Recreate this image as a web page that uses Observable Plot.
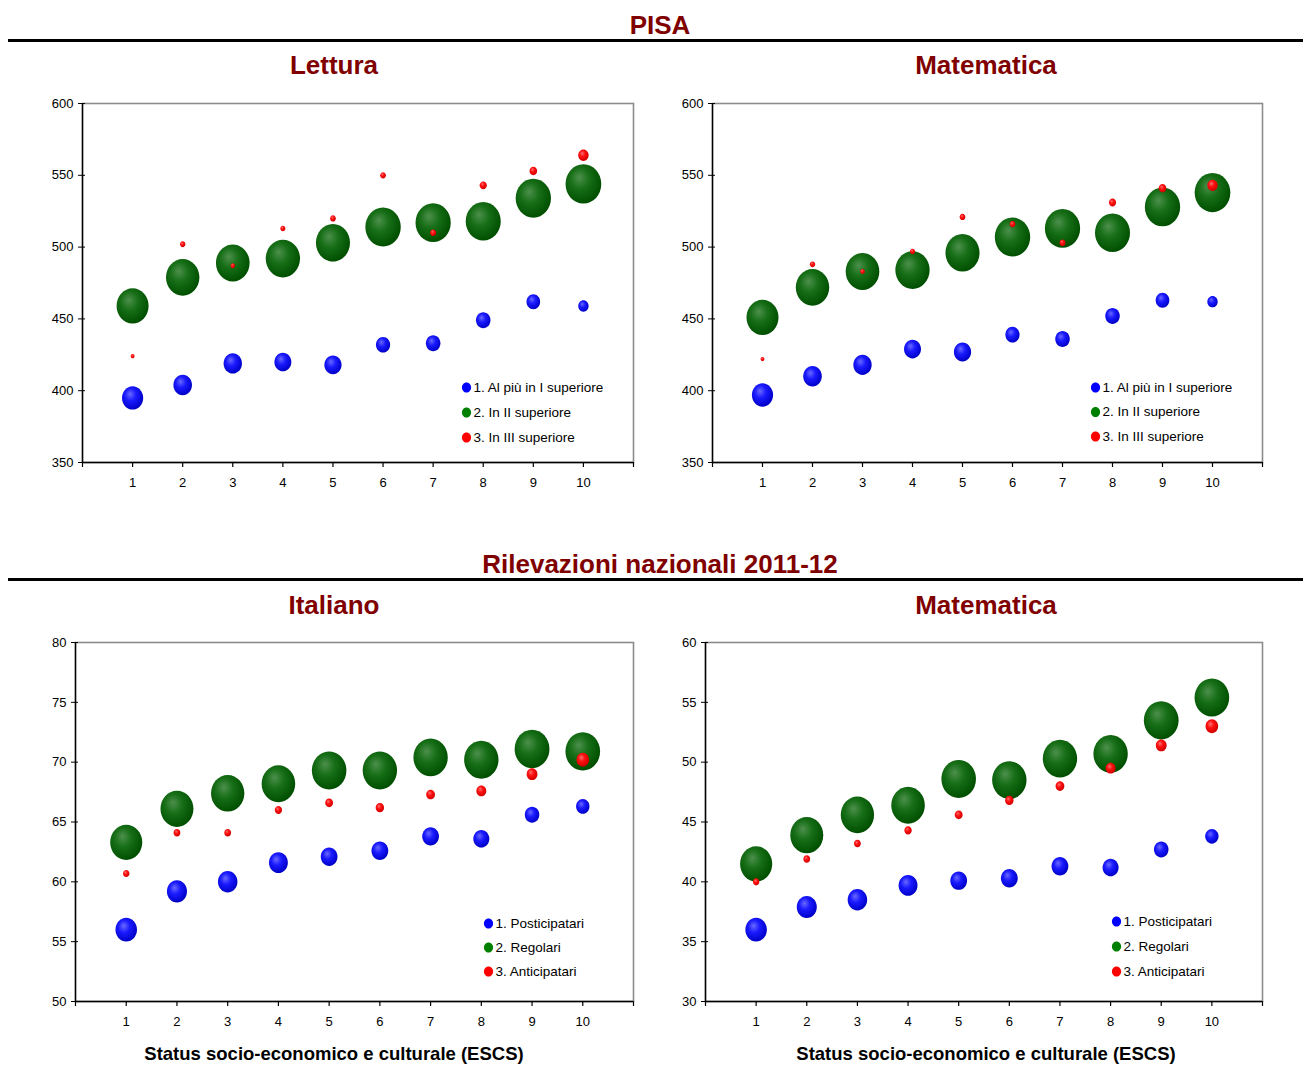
<!DOCTYPE html>
<html><head><meta charset="utf-8">
<script src="https://cdn.jsdelivr.net/npm/d3@7"></script>
<script src="https://cdn.jsdelivr.net/npm/@observablehq/plot@0.6"></script>
<style>
body{margin:0;background:#fff;font-family:"Liberation Sans",Arial,sans-serif;}
#page{position:relative;width:1303px;height:1066px;overflow:hidden;}
.t{position:absolute;width:600px;text-align:center;font-weight:bold;white-space:nowrap;}
.red{color:#800000;font-size:26px;line-height:30px;}
.xt{color:#000;font-size:18.5px;line-height:22px;}
.rule{position:absolute;left:8px;width:1295px;height:3px;background:#000;}
.panel{position:absolute;}
</style></head><body>
<svg width="0" height="0" style="position:absolute">
<defs>
<radialGradient id="gBlue" cx="0.42" cy="0.4" r="0.6" fx="0.38" fy="0.33">
<stop offset="0" stop-color="#6a6aff"/><stop offset="0.45" stop-color="#1a1aff"/><stop offset="1" stop-color="#0000c8"/>
</radialGradient>
<radialGradient id="gGreen" cx="0.42" cy="0.4" r="0.6" fx="0.38" fy="0.33">
<stop offset="0" stop-color="#4d8f4d"/><stop offset="0.45" stop-color="#176f17"/><stop offset="1" stop-color="#004f00"/>
</radialGradient>
<radialGradient id="gRed" cx="0.42" cy="0.4" r="0.6" fx="0.38" fy="0.33">
<stop offset="0" stop-color="#ff7070"/><stop offset="0.45" stop-color="#ff1010"/><stop offset="1" stop-color="#d00000"/>
</radialGradient>
</defs></svg>
<div id="page"></div>
<script>
// ---- data ----
const deciles = [1, 2, 3, 4, 5, 6, 7, 8, 9, 10];

// PISA: share of students (%) by grade attended, used as bubble size
const pisaShareBlue  = [30.2, 23.2, 22.6, 19.3, 19.9, 13.6, 14.2, 14.1, 12.5, 7.2];
const pisaShareGreen = [68.8, 74.9, 76.0, 79.0, 77.9, 84.2, 83.3, 82.4, 83.6, 85.6];
const pisaShareRed   = [1.0, 1.9, 1.4, 1.7, 2.2, 2.2, 2.5, 3.5, 3.9, 7.2];

// PISA Lettura scores
const letturaBlue  = [395, 404, 419, 420, 418, 432, 433, 449, 462, 459];
const letturaGreen = [459, 479, 489, 492, 503, 514, 517, 518, 534, 544];
const letturaRed   = [424, 502, 487, 513, 520, 550, 510, 543, 553, 564];

// PISA Matematica scores
const pisaMatBlue  = [397, 410, 418, 429, 427, 439, 436, 452, 463, 462];
const pisaMatGreen = [451, 472, 483, 484, 496, 507, 513, 510, 528, 538];
const pisaMatRed   = [422, 488, 483, 497, 521, 516, 503, 531, 541, 543];

// Rilevazioni nazionali: share of students (%) used as bubble size
const rnShareBlue  = [30.2, 26.2, 24.7, 23.2, 18.2, 18.4, 18.3, 16.7, 13.7, 11.6];
const rnShareGreen = [67.1, 70.7, 72.3, 73.3, 77.7, 77.0, 76.7, 76.9, 78.8, 78.2];
const rnShareRed   = [2.7, 3.0, 3.0, 3.5, 4.1, 4.6, 5.0, 6.4, 7.5, 10.3];

// Italiano scores
const italianoBlue  = [56.0, 59.2, 60.0, 61.6, 62.1, 62.6, 63.8, 63.6, 65.6, 66.3];
const italianoGreen = [63.3, 66.1, 67.4, 68.2, 69.3, 69.3, 70.4, 70.2, 71.1, 70.9];
const italianoRed   = [60.7, 64.1, 64.1, 66.0, 66.6, 66.2, 67.3, 67.6, 69.0, 70.2];

// Matematica (RN) scores
const rnMatBlue  = [36.0, 37.9, 38.5, 39.7, 40.1, 40.3, 41.3, 41.2, 42.7, 43.8];
const rnMatGreen = [41.5, 43.9, 45.6, 46.4, 48.6, 48.5, 50.3, 50.7, 53.5, 55.4];
const rnMatRed   = [40.0, 41.9, 43.2, 44.3, 45.6, 46.8, 48.0, 49.5, 51.4, 53.0];

const pisaLabels = ["1. Al più in I superiore", "2. In II superiore", "3. In III superiore"];
const rnLabels = ["1. Posticipatari", "2. Regolari", "3. Anticipatari"];

const pisaYTicks = [350, 400, 450, 500, 550, 600];
const italianoYTicks = [50, 55, 60, 65, 70, 75, 80];
const rnMatYTicks = [30, 35, 40, 45, 50, 55, 60];
const xTicks = [0, 1, 2, 3, 4, 5, 6, 7, 8, 9, 10, 11];

// ---- drawing ----
const ellipse = {
  draw(ctx, size) {
    const rx = Math.sqrt(size / Math.PI), ry = rx * 1.1, k = 0.5523;
    ctx.moveTo(rx, 0);
    ctx.bezierCurveTo(rx, ry * k, rx * k, ry, 0, ry);
    ctx.bezierCurveTo(-rx * k, ry, -rx, ry * k, -rx, 0);
    ctx.bezierCurveTo(-rx, -ry * k, -rx * k, -ry, 0, -ry);
    ctx.bezierCurveTo(rx * k, -ry, rx, -ry * k, rx, 0);
    ctx.closePath();
  }
};

function rows(scores, shares) {
  return deciles.map((d, i) => ({decile: d, score: scores[i], share: shares[i]}));
}

function panel(o) {
  const [y0, y1] = [o.yTicks[0], o.yTicks[o.yTicks.length - 1]];
  const series = [
    {data: rows(o.blue, o.sBlue), fill: "url(#gBlue)", flat: "#0000ff"},
    {data: rows(o.green, o.sGreen), fill: "url(#gGreen)", flat: "#008000"},
    {data: rows(o.red, o.sRed), fill: "url(#gRed)", flat: "#ff0000"}
  ];
  const marks = [
    Plot.frame({stroke: "#8c8c8c", strokeWidth: 1.6}),
    Plot.ruleY([y0], {stroke: "#000", strokeWidth: 1.4}),
    Plot.ruleX([0], {stroke: "#000", strokeWidth: 1.4}),
    Plot.axisX({ticks: xTicks, tickSize: 5, tickPadding: 10, fontSize: 13, tickFormat: d => (d >= 1 && d <= 10 ? d : ""), stroke: "#000", strokeWidth: 1.2, color: "#000"}),
    Plot.axisY({ticks: o.yTicks, tickSize: 4, tickPadding: 5, fontSize: 13, stroke: "#000", color: "#000", label: null}),
    Plot.axisY({ticks: o.yTicks, anchor: "left", tickSize: -3, tickFormat: () => "", stroke: "#000", label: null})
  ];
  for (const s of series) {
    marks.push(Plot.dot(s.data, {x: "decile", y: "score", r: "share", symbol: ellipse, fill: s.fill, stroke: "none"}));
  }
  series.forEach((s, i) => {
    marks.push(Plot.dot([0], {frameAnchor: "top-left", dx: o.legX, dy: o.legY + i * o.legStep, r: 4.6, symbol: ellipse, fill: s.flat}));
    marks.push(Plot.text([o.labels[i]], {frameAnchor: "top-left", dx: o.legX + 7, dy: o.legY + i * o.legStep, text: d => d, textAnchor: "start", lineAnchor: "middle", fontSize: 13.5, fill: "#000"}));
  });
  const svg = Plot.plot({
    width: o.width, height: o.height,
    marginLeft: o.ml, marginRight: o.mr, marginTop: o.mt, marginBottom: o.mb,
    style: {fontFamily: "'Liberation Sans', Arial, sans-serif", fontSize: "13px", background: "transparent", color: "#000", overflow: "visible"},
    x: {domain: [0, 11], label: null},
    y: {domain: [y0, y1], label: null},
    r: {type: "sqrt", domain: [0, 100], range: [0, o.r100]},
    marks
  });
  const div = document.createElement("div");
  div.className = "panel";
  div.style.left = o.left + "px";
  div.style.top = o.top + "px";
  div.appendChild(svg);
  document.getElementById("page").appendChild(div);
}

// PISA Lettura: plot area x 82..633, y 103..462
panel({left: 0, top: 90, width: 651, height: 410, ml: 82, mr: 18, mt: 13, mb: 38,
  yTicks: pisaYTicks, blue: letturaBlue, green: letturaGreen, red: letturaRed,
  sBlue: pisaShareBlue, sGreen: pisaShareGreen, sRed: pisaShareRed, r100: 19.3,
  labels: pisaLabels, legX: 384, legY: 284, legStep: 25});
// PISA Matematica: plot area x 712..1262
panel({left: 630, top: 90, width: 651, height: 410, ml: 82, mr: 19, mt: 13, mb: 38,
  yTicks: pisaYTicks, blue: pisaMatBlue, green: pisaMatGreen, red: pisaMatRed,
  sBlue: pisaShareBlue, sGreen: pisaShareGreen, sRed: pisaShareRed, r100: 19.3,
  labels: pisaLabels, legX: 383, legY: 284, legStep: 24.5});
// Italiano: plot area x 75..633, y 642..1001
panel({left: 0, top: 630, width: 651, height: 410, ml: 75, mr: 18, mt: 12, mb: 39,
  yTicks: italianoYTicks, blue: italianoBlue, green: italianoGreen, red: italianoRed,
  sBlue: rnShareBlue, sGreen: rnShareGreen, sRed: rnShareRed, r100: 19.6,
  labels: rnLabels, legX: 413, legY: 281, legStep: 24});
// Matematica RN: plot area x 705..1262
panel({left: 630, top: 630, width: 651, height: 410, ml: 75, mr: 19, mt: 12, mb: 39,
  yTicks: rnMatYTicks, blue: rnMatBlue, green: rnMatGreen, red: rnMatRed,
  sBlue: rnShareBlue, sGreen: rnShareGreen, sRed: rnShareRed, r100: 19.6,
  labels: rnLabels, legX: 411, legY: 279, legStep: 25});

// headings
const page = document.getElementById("page");
function label(text, cls, cx, cy, lh) {
  const d = document.createElement("div");
  d.className = "t " + cls;
  d.textContent = text;
  d.style.left = (cx - 300) + "px";
  d.style.top = (cy - lh / 2) + "px";
  page.appendChild(d);
}
label("PISA", "red", 660, 25, 30);
label("Lettura", "red", 334, 65, 30);
label("Matematica", "red", 986, 65, 30);
label("Rilevazioni nazionali 2011-12", "red", 660, 564, 30);
label("Italiano", "red", 334, 605, 30);
label("Matematica", "red", 986, 605, 30);
label("Status socio-economico e culturale (ESCS)", "xt", 334, 1054, 22);
label("Status socio-economico e culturale (ESCS)", "xt", 986, 1054, 22);
for (const y of [39, 578]) {
  const r = document.createElement("div");
  r.className = "rule";
  r.style.top = y + "px";
  page.appendChild(r);
}
</script>
</body></html>
